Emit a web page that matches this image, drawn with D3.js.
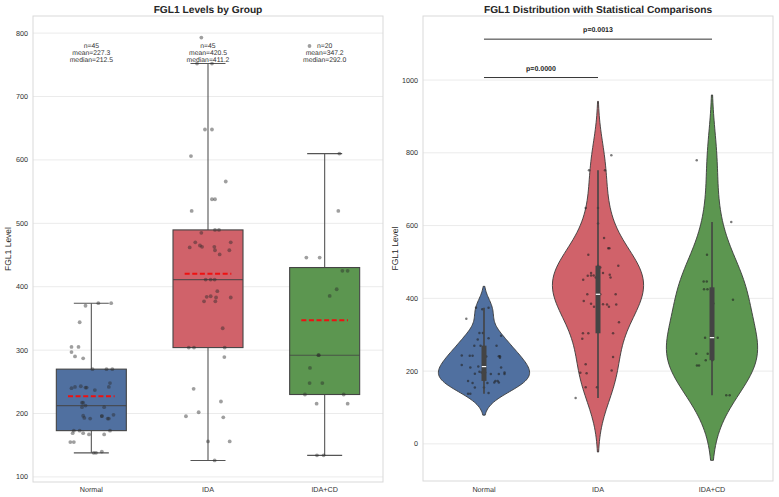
<!DOCTYPE html>
<html><head><meta charset="utf-8">
<script src="https://cdn.jsdelivr.net/npm/d3@7"></script>
<style>body{margin:0;background:#fff;-webkit-font-smoothing:antialiased} svg{display:block;font-family:"Liberation Sans",Arial,sans-serif;text-rendering:geometricPrecision}</style>
</head><body><svg id="c" width="779" height="497"></svg>
<script>
const categories = ["Normal", "IDA", "IDA+CD"];
const colors = ["#5070a0", "#d0626a", "#5c9650"];
const normalValues = [370,374,374,344,305,305,297,290,287,270,270,270,248,243,242,242,241,241,240,237,217,217,212.5,210,210,198,196,193,192,192,173,173,173,169,169,167,167,155,155,140,138,138,192,196,196.5];
const idaValues = [793,752,752,648,648,606,566,538,538,519.6,489.6,489.6,485,470,470,465,463,463,462,457.5,457.5,411.2,411.2,393,385,384,383,383,377,377,334.5,304,304,304,289,239,219,202,195.7,194,156,156,126,411.2,450.9];
const idaCdValues = [779.7,610,519.6,446,446,425,425,396,385.5,292,292,272,248,248,230,230,215.6,215.6,134,134];
// horizontal jitter of the strip points (fraction of a category slot)
const normalJitterBox = [-0.05,0.06,0.17,-0.10,-0.17,-0.11,-0.17,-0.14,-0.07,0.01,0.13,0.18,0.16,-0.09,-0.14,0.15,-0.05,-0.04,-0.17,0.03,-0.08,-0.07,-0.05,-0.08,0.11,0.19,0.09,-0.06,-0.01,0.14,-0.15,-0.10,0.16,-0.16,-0.07,-0.02,0.11,-0.18,-0.15,0.09,0.02,0.04,0.15,0.09,-0.07];
const idaJitterBox = [-0.057,-0.094,0.034,-0.026,0.034,-0.146,0.152,0.034,0.06,-0.14,0.06,0.094,-0.057,-0.109,0.195,-0.069,-0.051,0.054,-0.157,0.06,0.183,0.023,0.057,0.08,0.023,-0.011,0.069,0.195,-0.034,0.063,0.126,-0.165,-0.12,0.143,0.14,-0.123,0.111,-0.08,-0.189,0.131,0.0,0.186,0.057,-0.02,0.1];
const idaCdJitterBox = [-0.13,0.126,0.117,-0.157,-0.043,0.152,0.197,0.103,0.043,-0.054,-0.05,-0.126,-0.129,-0.02,-0.169,0.163,-0.069,0.197,-0.066,-0.009];
const normalJitterViolin = [-0.015,0.04,-0.07,-0.155,-0.04,-0.01,0.15,0.04,-0.055,-0.085,-0.03,0.11,0.0,-0.195,-0.125,-0.10,0.14,0.13,0.02,0.14,-0.195,0.0,-0.05,-0.12,0.15,-0.04,0.01,-0.08,0.06,0.13,-0.14,0.10,0.12,0.13,0.09,-0.10,0.03,-0.08,0.0,0.04,-0.14,-0.12,0.18,-0.02,0.18];
const idaJitterViolin = [0.117,-0.079,0.061,-0.108,0.0,0.0,0.053,0.09,0.1,-0.085,0.178,0.0,0.02,0.044,-0.061,0.103,-0.038,-0.061,-0.09,0.11,-0.02,-0.094,0.155,-0.125,-0.061,0.044,0.079,0.16,0.096,-0.035,0.184,-0.132,-0.085,0.132,-0.138,0.132,-0.108,0.12,-0.155,-0.1,-0.108,-0.009,-0.196,0.02,-0.13];
const idaCdJitterViolin = [-0.134,0.169,-0.044,-0.073,-0.046,-0.07,-0.04,0.184,0.011,-0.061,0.05,0.0,-0.138,-0.038,-0.055,0.003,-0.132,-0.114,0.125,0.155];
const yTicksLeft = [100,200,300,400,500,600,700,800];
const yTicksRight = [0,200,400,600,800,1000];
const comparisons = [{a:"Normal", b:"IDA", p:"0.0000"}, {a:"Normal", b:"IDA+CD", p:"0.0013"}];

const groups = categories.map((c,i)=>({
  name:c, color:colors[i],
  values:[normalValues, idaValues, idaCdValues][i],
  jb:[normalJitterBox, idaJitterBox, idaCdJitterBox][i],
  jv:[normalJitterViolin, idaJitterViolin, idaCdJitterViolin][i]
}));
groups.forEach(g=>{
  const s = g.values.slice().sort(d3.ascending);
  g.q1 = d3.quantile(s,0.25); g.q3 = d3.quantile(s,0.75); g.med = d3.quantile(s,0.5);
  g.mean = d3.mean(s); g.n = s.length;
  const iqr = g.q3-g.q1;
  g.wlo = d3.min(s.filter(v=>v>=g.q1-1.5*iqr));
  g.whi = d3.max(s.filter(v=>v<=g.q3+1.5*iqr));
  const sd = d3.deviation(s);
  g.bw = sd*Math.pow(g.n,-0.2);
  const lo = s[0]-2*g.bw, hi = s[s.length-1]+2*g.bw;
  g.kde = d3.range(100).map(k=>{
    const x = lo+(hi-lo)*k/99;
    const d = d3.mean(s, v=>Math.exp(-0.5*((x-v)/g.bw)**2));
    return {v:x, d:d};
  });
  g.kmax = d3.max(g.kde, d=>d.d);
  g.top = hi;
});

const svg = d3.select("#c");

function frame(x0,x1,y0,y1,yScale,ticks){
  const g = svg.append("g");
  g.selectAll("line.grid").data(ticks).join("line")
    .attr("x1",x0).attr("x2",x1).attr("y1",d=>yScale(d)).attr("y2",d=>yScale(d))
    .attr("stroke","#ebebeb").attr("stroke-width",1);
  g.append("rect").attr("x",x0).attr("y",y0).attr("width",x1-x0).attr("height",y1-y0)
    .attr("fill","none").attr("stroke","#d9d9d9").attr("stroke-width",1);
  g.selectAll("text.yt").data(ticks).join("text")
    .attr("x",x0-5).attr("y",d=>yScale(d)+2.5).attr("text-anchor","end")
    .attr("font-size",7.2).attr("fill","#333").text(d=>d);
  return g;
}

// ---------- LEFT: boxplot ----------
const L = {x0:33, x1:383, y0:16, y1:482};
const xL = d3.scaleBand().domain(categories).range([L.x0, L.x1]);
const yL = d3.scaleLinear().domain([92, 827]).range([L.y1, L.y0]);
frame(L.x0,L.x1,L.y0,L.y1,yL,yTicksLeft);
const bwL = xL.bandwidth();
const gl = svg.append("g");
groups.forEach(g=>{
  const cx = xL(g.name)+bwL/2;
  gl.append("line").attr("x1",cx).attr("x2",cx).attr("y1",yL(g.q3)).attr("y2",yL(g.whi)).attr("stroke","#555").attr("stroke-width",1.1);
  gl.append("line").attr("x1",cx).attr("x2",cx).attr("y1",yL(g.q1)).attr("y2",yL(g.wlo)).attr("stroke","#555").attr("stroke-width",1.1);
  [g.whi,g.wlo].forEach(w=>gl.append("line").attr("x1",cx-0.15*bwL).attr("x2",cx+0.15*bwL).attr("y1",yL(w)).attr("y2",yL(w)).attr("stroke","#555").attr("stroke-width",1.1));
  gl.append("rect").attr("x",cx-0.3*bwL).attr("width",0.6*bwL).attr("y",yL(g.q3)).attr("height",yL(g.q1)-yL(g.q3))
    .attr("fill",g.color).attr("stroke","#444").attr("stroke-width",1.1);
  gl.append("line").attr("x1",cx-0.3*bwL).attr("x2",cx+0.3*bwL).attr("y1",yL(g.med)).attr("y2",yL(g.med)).attr("stroke","#444").attr("stroke-width",1.1).attr("stroke-opacity",0.8);
});
groups.forEach(g=>{
  const cx = xL(g.name)+bwL/2;
  gl.selectAll(null).data(g.values.map((v,i)=>({v, j:g.jb[i]}))).join("circle")
    .attr("cx",d=>cx+d.j*bwL).attr("cy",d=>yL(d.v)).attr("r",1.9)
    .attr("fill","#2a2a2a").attr("fill-opacity",0.45);
});
groups.forEach(g=>{
  const cx = xL(g.name)+bwL/2;
  gl.append("line").attr("x1",cx-0.2*bwL).attr("x2",cx+0.2*bwL).attr("y1",yL(g.mean)).attr("y2",yL(g.mean))
    .attr("stroke","#ee1111").attr("stroke-width",2).attr("stroke-dasharray","5,2.6");
  const lines = ["n="+g.n, "mean="+g.mean.toFixed(1), "median="+g.med.toFixed(1)];
  lines.forEach((t,k)=>gl.append("text").attr("x",cx).attr("y",47.5+k*7).attr("text-anchor","middle")
    .attr("font-size",6.8).attr("fill","#333").text(t));
});
svg.append("g").selectAll("text").data(categories).join("text")
  .attr("x",d=>xL(d)+bwL/2).attr("y",491.5).attr("text-anchor","middle").attr("font-size",7.2).attr("fill","#333").text(d=>d);
svg.append("text").attr("x",(L.x0+L.x1)/2).attr("y",13).attr("text-anchor","middle").attr("font-size",10.2).attr("font-weight","bold").attr("fill","#262626").text("FGL1 Levels by Group");
svg.append("text").attr("transform",`translate(11,${(L.y0+L.y1)/2}) rotate(-90)`).attr("text-anchor","middle").attr("font-size",8.5).attr("fill","#262626").text("FGL1 Level");

// ---------- RIGHT: violin ----------
const R = {x0:423, x1:773, y0:16, y1:481};
const xR = d3.scaleLinear().domain([-0.535, 2.535]).range([R.x0, R.x1]);
const yR = d3.scaleLinear().domain([-102, 1176]).range([R.y1, R.y0]);
frame(R.x0,R.x1,R.y0,R.y1,yR,yTicksRight);
const unit = xR(1)-xR(0);
const gr = svg.append("g");
groups.forEach((g,i)=>{
  const cx = xR(i);
  const area = d3.area().y(d=>yR(d.v)).x0(d=>cx-0.4*unit*d.d/g.kmax).x1(d=>cx+0.4*unit*d.d/g.kmax);
  gr.append("path").attr("d",area(g.kde)).attr("fill",g.color).attr("stroke","#3a3a3a").attr("stroke-width",0.9);
  gr.selectAll(null).data(g.values.map((v,k)=>({v, j:g.jv[k]}))).join("circle")
    .attr("cx",d=>cx+d.j*unit).attr("cy",d=>yR(d.v)).attr("r",1.25)
    .attr("fill","#222").attr("fill-opacity",0.6);
  gr.append("line").attr("x1",cx).attr("x2",cx).attr("y1",yR(g.wlo)).attr("y2",yR(g.whi)).attr("stroke","#444").attr("stroke-width",1.6);
  gr.append("line").attr("x1",cx).attr("x2",cx).attr("y1",yR(g.q1)).attr("y2",yR(g.q3)).attr("stroke","#444").attr("stroke-width",5);
  gr.append("line").attr("x1",cx-2.2).attr("x2",cx+2.2).attr("y1",yR(g.med)).attr("y2",yR(g.med)).attr("stroke","#fff").attr("stroke-width",1.2);
});
const vtop = d3.max(groups, g=>g.top);
comparisons.forEach((c,k)=>{
  const xa = xR(categories.indexOf(c.a)), xb = xR(categories.indexOf(c.b));
  const yv = vtop*(1.05+0.11*k);
  gr.append("line").attr("x1",xa).attr("x2",xb).attr("y1",yR(yv)).attr("y2",yR(yv)).attr("stroke","#333").attr("stroke-width",1);
  gr.append("text").attr("x",(xa+xb)/2).attr("y",yR(yv)-7).attr("text-anchor","middle").attr("font-size",7).attr("font-weight","bold").attr("fill","#222").text("p="+c.p);
});
svg.append("g").selectAll("text").data(categories).join("text")
  .attr("x",(d,i)=>xR(i)).attr("y",491.5).attr("text-anchor","middle").attr("font-size",7.2).attr("fill","#333").text(d=>d);
svg.append("text").attr("x",(R.x0+R.x1)/2).attr("y",13).attr("text-anchor","middle").attr("font-size",10.2).attr("font-weight","bold").attr("fill","#262626").text("FGL1 Distribution with Statistical Comparisons");
svg.append("text").attr("transform",`translate(398,${(R.y0+R.y1)/2}) rotate(-90)`).attr("text-anchor","middle").attr("font-size",8.5).attr("fill","#262626").text("FGL1 Level");
</script></body></html>
